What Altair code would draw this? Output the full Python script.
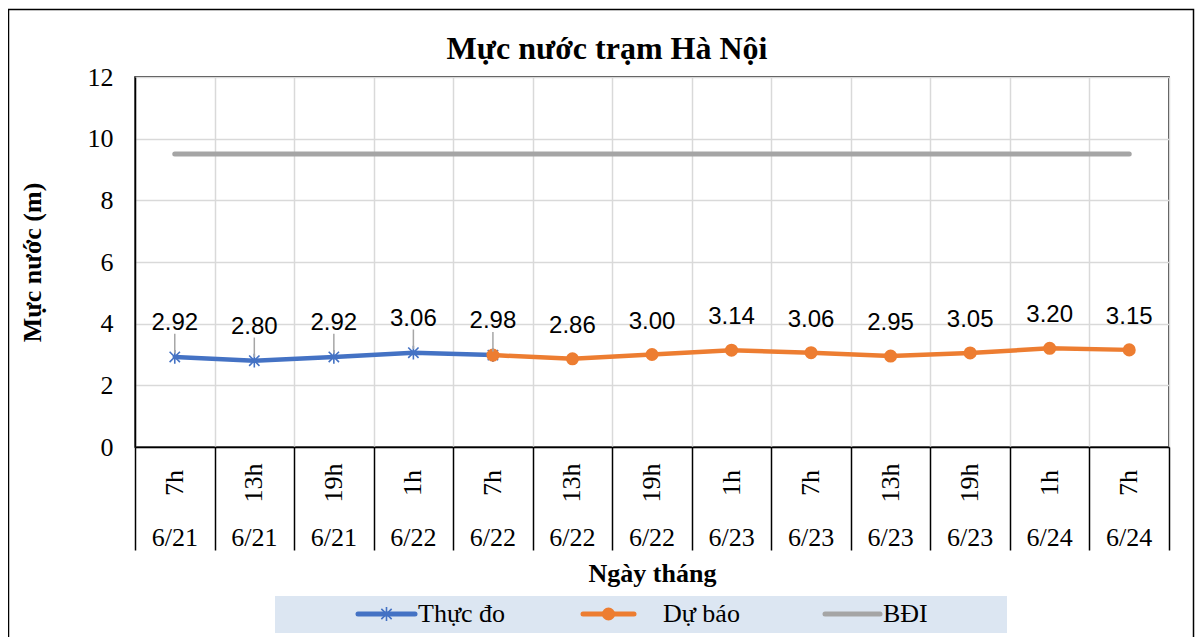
import altair as alt
import pandas as pd

# ---------------- data ----------------
hours = ["7h", "13h", "19h", "1h", "7h", "13h", "19h", "1h", "7h", "13h", "19h", "1h", "7h"]
dates = ["6/21", "6/21", "6/21", "6/22", "6/22", "6/22", "6/22", "6/23", "6/23", "6/23", "6/23", "6/24", "6/24"]
thuc_do = [2.92, 2.80, 2.92, 3.06, 2.98]
du_bao = [2.98, 2.86, 3.00, 3.14, 3.06, 2.95, 3.05, 3.20, 3.15]
du_bao_start = 4
bdi_level = 9.5
series_names = ["Thực đo", "Dự báo", "BĐI"]
series_colors = ["#4472C4", "#ED7D31", "#A5A5A5"]
y_ticks = [0, 2, 4, 6, 8, 10, 12]
chart_title = "Mực nước trạm Hà Nội"
x_title = "Ngày tháng"
y_title = "Mực nước (m)"

n = len(hours)
cat_df = pd.DataFrame({"idx": list(range(n)), "hour": hours, "date": dates})
obs_df = pd.DataFrame({"idx": list(range(len(thuc_do))), "v": thuc_do})
fc_df = pd.DataFrame({"idx": list(range(du_bao_start, du_bao_start + len(du_bao))), "v": du_bao})
fc_lbl_df = fc_df[fc_df["idx"] > len(thuc_do) - 1]
bdi_df = pd.DataFrame({"idx": list(range(n)), "v": [bdi_level] * n})

# ---------------- layout ----------------
W, H = 1034, 370
SERIF = "Liberation Serif"
SANS = "Liberation Sans"
GRID = "#d9d9d9"
ASTERISK = "M0,-1L0,1M-0.75,-0.75L0.75,0.75M-0.75,0.75L0.75,-0.75"

boundaries = [i - 0.5 for i in range(n + 1)]
x_scale = alt.Scale(domain=[-0.5, n - 0.5], nice=False, zero=False)
y_scale = alt.Scale(domain=[0, 12], nice=False)

x_axis = alt.Axis(values=boundaries, labels=False, ticks=True, tickSize=103,
                  tickColor="black", tickWidth=1.5, grid=True, gridColor=GRID,
                  gridWidth=1.5, domainColor="black", domainWidth=1.5,
                  title=x_title, titleFont=SERIF, titleFontSize=26,
                  titleFontWeight="bold", titleColor="black", titlePadding=10)
y_axis = alt.Axis(values=y_ticks, ticks=False, tickSize=0, labelPadding=22,
                  labelFont=SERIF, labelFontSize=26, labelColor="black",
                  grid=True, gridColor=GRID, gridWidth=1.5,
                  domainColor="black", domainWidth=1.5,
                  title=y_title, titleFont=SERIF, titleFontSize=26,
                  titleFontWeight="bold", titleColor="black",
                  titleX=-103, titleY=H / 2, titleAngle=270,
                  titleAlign="center", titleBaseline="middle")

X = alt.X("idx:Q", scale=x_scale, axis=x_axis)
Y = alt.Y("v:Q", scale=y_scale, axis=y_axis)
Xn = alt.X("idx:Q", scale=x_scale)
Yn = alt.Y("v:Q", scale=y_scale)

one = lambda **kw: alt.Data(values=[kw])

layers = []

# outer frame
layers.append(alt.Chart(one(a=1)).mark_rect(fill=None, stroke="black", strokeWidth=1.5).encode(
    x=alt.value(-126.5), x2=alt.value(1058.5), y=alt.value(-67.5), y2=alt.value(600)))

# BĐI line
layers.append(alt.Chart(bdi_df).mark_line(color=series_colors[2], strokeWidth=5, strokeCap="round").encode(x=X, y=Y))

# observed
layers.append(alt.Chart(obs_df).mark_line(color=series_colors[0], strokeWidth=4.5, strokeCap="round").encode(x=Xn, y=Yn))
layers.append(alt.Chart(obs_df).mark_point(shape=ASTERISK, filled=False, stroke=series_colors[0],
                                           strokeWidth=1.6, size=190, opacity=1).encode(x=Xn, y=Yn))

# forecast
layers.append(alt.Chart(fc_df).mark_line(color=series_colors[1], strokeWidth=4.5, strokeCap="round").encode(x=Xn, y=Yn))
layers.append(alt.Chart(fc_df).mark_circle(color=series_colors[1], size=170, opacity=1).encode(x=Xn, y=Yn))

# leader lines for observed labels
layers.append(alt.Chart(obs_df).transform_calculate(lo="datum.v + 0.12", hi="datum.v + 0.75").mark_rule(
    color="#a6a6a6", strokeWidth=1.5).encode(x=Xn, y=alt.Y("lo:Q", scale=y_scale), y2="hi:Q"))

# data labels
layers.append(alt.Chart(obs_df).mark_text(font=SANS, fontSize=24, dy=-34, baseline="middle", color="black").encode(
    x=Xn, y=Yn, text=alt.Text("v:Q", format=".2f")))
layers.append(alt.Chart(fc_lbl_df).mark_text(font=SANS, fontSize=24, dy=-33, baseline="middle", color="black").encode(
    x=Xn, y=Yn, text=alt.Text("v:Q", format=".2f")))

# category labels (hour rotated, date below)
layers.append(alt.Chart(cat_df).mark_text(font=SERIF, fontSize=26, angle=270, align="center", baseline="middle",
                                          color="black").encode(x=Xn, y=alt.value(H + 36), text="hour:N"))
layers.append(alt.Chart(cat_df).mark_text(font=SERIF, fontSize=26, align="center", baseline="middle",
                                          color="black").encode(x=Xn, y=alt.value(H + 91), text="date:N"))

# chart title
layers.append(alt.Chart(one(t=chart_title)).mark_text(font=SERIF, fontSize=32, fontWeight="bold", align="center",
                                                      baseline="middle", color="black").encode(
    x=alt.value(472), y=alt.value(-28), text="t:N"))

# legend (manual)
layers.append(alt.Chart(one(a=1)).mark_rect(fill="#DCE6F2").encode(
    x=alt.value(140), x2=alt.value(872), y=alt.value(519), y2=alt.value(556)))
leg_y = 537
leg_pos = [(223, 280, 283), (448, 499, 528), (690, 745, 748)]
for i, (a, b, t) in enumerate(leg_pos):
    d = one(label=series_names[i])
    layers.append(alt.Chart(d).mark_rule(color=series_colors[i], strokeWidth=5, strokeCap="round").encode(
        x=alt.value(a), x2=alt.value(b), y=alt.value(leg_y)))
    if i == 0:
        layers.append(alt.Chart(d).mark_point(shape=ASTERISK, filled=False, stroke=series_colors[0],
                                              strokeWidth=1.6, size=190, opacity=1).encode(
            x=alt.value((a + b) / 2), y=alt.value(leg_y)))
    if i == 1:
        layers.append(alt.Chart(d).mark_circle(color=series_colors[1], size=170, opacity=1).encode(
            x=alt.value((a + b) / 2), y=alt.value(leg_y)))
    layers.append(alt.Chart(d).mark_text(font=SERIF, fontSize=26, align="left", baseline="middle",
                                         color="black").encode(x=alt.value(t), y=alt.value(leg_y), text="label:N"))

chart = alt.layer(*layers).properties(
    width=W, height=H,
    padding={"left": 127, "top": 69, "right": 26, "bottom": 190},
    autosize=alt.AutoSizeParams(type="none"),
).configure_view(stroke="black", strokeWidth=1.5)

chart.save("out.html", embed_options={"renderer": "svg", "actions": False})
